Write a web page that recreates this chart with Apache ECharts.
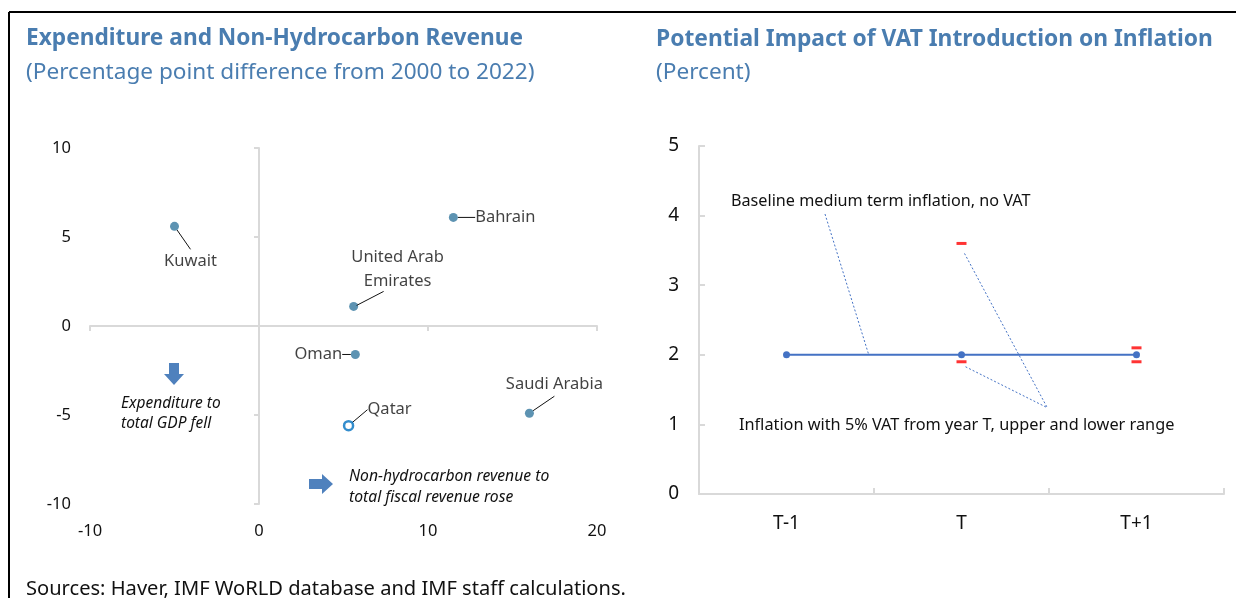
<!DOCTYPE html>
<html>
<head>
<meta charset="utf-8">
<script src="https://cdn.jsdelivr.net/npm/echarts@6/dist/echarts.min.js"></script>
<style>
  html, body { margin: 0; padding: 0; background: #fff; }
  #main { width: 1236px; height: 598px; }
</style>
</head>
<body>
<div id="main"></div>
<script>
// left panel: change 2000-2022, percentage points
const countries = ['Kuwait', 'Bahrain', 'United Arab\nEmirates', 'Oman', 'Qatar', 'Saudi Arabia']
const nonHydroRevenue = [-5.0, 11.5, 5.6, 5.7, 5.3, 16.0]
const expenditure = [5.6, 6.1, 1.1, -1.6, -5.6, -4.9]
const leftXTicks = [-10, 0, 10, 20]
const leftYTicks = [-10, -5, 0, 5, 10]

// right panel: inflation, percent
const periods = ['T-1', 'T', 'T+1']
const baseline = [2, 2, 2]
const vatUpper = [null, 3.6, 2.1]
const vatLower = [null, 1.9, 1.9]

const font = 'Noto Sans'
const titleBlue = '#4a7db0'
const axisGray = '#d9d9d9'
const dotColor = '#35789f'

// label offsets (px) from each point
const labelOffsets = [[16, 35], [52, 0], [44, -37], [-37, 0], [41, -16], [25, -29]]

// UAE gets its own series: its leader line is angled, drawn with a markLine
const uaeIdx = 2
const mainIdx = countries.map((c, i) => i).filter(i => i !== uaeIdx)

const toItem = (i) => {
  const item = { name: countries[i], value: [nonHydroRevenue[i], expenditure[i]] }
  if (countries[i] === 'Qatar') {
    item.itemStyle = { color: '#fff', borderColor: '#0070c0', borderWidth: 2.5 }
    item.symbolSize = 9
  }
  return item
}

const labelBase = { show: true, position: 'inside', formatter: '{b}', fontSize: 16.5, color: '#111', lineHeight: 24 }

const chart = echarts.init(document.getElementById('main'))

chart.setOption({
  animation: false,
  textStyle: { fontFamily: font },
  title: [{
    left: 21, top: 22,
    text: 'Expenditure and Non-Hydrocarbon Revenue',
    subtext: '(Percentage point difference from 2000 to 2022)',
    itemGap: 11,
    textStyle: { fontFamily: font, fontSize: 22.7, fontWeight: 'bold', color: titleBlue },
    subtextStyle: { fontFamily: font, fontSize: 22.6, color: titleBlue }
  }, {
    left: 651, top: 23,
    text: 'Potential Impact of VAT Introduction on Inflation',
    subtext: '(Percent)',
    itemGap: 10,
    textStyle: { fontFamily: font, fontSize: 22.8, fontWeight: 'bold', color: titleBlue },
    subtextStyle: { fontFamily: font, fontSize: 22.6, color: titleBlue }
  }, {
    left: 21, top: 574,
    text: 'Sources: Haver, IMF WoRLD database and IMF staff calculations.',
    textStyle: { fontFamily: font, fontSize: 20.1, fontWeight: 'normal', color: '#111' }
  }],
  grid: [
    { left: 90, right: 639, top: 148, bottom: 94 },
    { left: 699, right: 12, top: 146, bottom: 104 }
  ],
  xAxis: [{
    gridIndex: 0, type: 'value', min: leftXTicks[0], max: leftXTicks[3], interval: 10,
    axisLine: { show: false }, axisTick: { show: false }, splitLine: { show: false },
    axisLabel: { margin: 19, fontSize: 16.5, color: '#111' }
  }, {
    gridIndex: 0, type: 'value', min: leftXTicks[0], max: leftXTicks[3], interval: 10,
    axisLine: { show: true, onZero: true, lineStyle: { color: axisGray, width: 2 } },
    axisTick: { show: true, inside: true, length: 5, lineStyle: { color: axisGray, width: 2 } },
    axisLabel: { show: false }, splitLine: { show: false }
  }, {
    gridIndex: 1, type: 'category', data: periods, boundaryGap: true,
    axisLine: { lineStyle: { color: axisGray, width: 2 } },
    axisTick: { show: true, inside: true, length: 6, lineStyle: { color: axisGray, width: 2 } },
    axisLabel: { margin: 20, fontSize: 19, color: '#111' }
  }],
  yAxis: [{
    gridIndex: 0, type: 'value', min: leftYTicks[0], max: leftYTicks[4], interval: 5,
    axisLine: { show: false }, axisTick: { show: false }, splitLine: { show: false },
    axisLabel: { margin: 19, fontSize: 16.5, color: '#111' }
  }, {
    gridIndex: 0, type: 'value', min: leftYTicks[0], max: leftYTicks[4], interval: 5,
    axisLine: { show: true, onZero: true, lineStyle: { color: axisGray, width: 2 } },
    axisTick: { show: true, inside: true, length: 5, lineStyle: { color: axisGray, width: 2 } },
    axisLabel: { show: false }, splitLine: { show: false }
  }, {
    gridIndex: 1, type: 'value', min: 0, max: 5, interval: 1,
    axisLine: { show: true, lineStyle: { color: axisGray, width: 2 } },
    axisTick: { show: true, inside: true, length: 6, lineStyle: { color: axisGray, width: 2 } },
    splitLine: { show: false },
    axisLabel: { margin: 20, fontSize: 19, color: '#111' }
  }],
  series: [{
    type: 'scatter',
    xAxisIndex: 0, yAxisIndex: 0,
    symbolSize: 9,
    itemStyle: { color: dotColor },
    data: mainIdx.map(toItem),
    label: labelBase,
    labelLayout: (params) => {
      const o = labelOffsets[mainIdx[params.dataIndex]]
      return { dx: o[0], dy: o[1] }
    },
    labelLine: { show: true, lineStyle: { color: '#111', width: 1 } }
  }, {
    id: 'uae',
    type: 'scatter',
    xAxisIndex: 0, yAxisIndex: 0,
    symbolSize: 9,
    itemStyle: { color: dotColor },
    data: [toItem(uaeIdx)],
    label: labelBase,
    labelLayout: () => ({ dx: labelOffsets[uaeIdx][0], dy: labelOffsets[uaeIdx][1] }),
    labelLine: { show: false }
  }, {
    name: 'Baseline',
    type: 'line',
    xAxisIndex: 2, yAxisIndex: 2,
    data: baseline,
    symbol: 'circle', symbolSize: 7,
    lineStyle: { color: '#4472c4', width: 2 },
    itemStyle: { color: '#4472c4' }
  }, {
    name: 'Upper',
    type: 'scatter',
    xAxisIndex: 2, yAxisIndex: 2,
    data: vatUpper,
    symbol: 'rect', symbolSize: [10, 3],
    itemStyle: { color: '#ff0000' }
  }, {
    name: 'Lower',
    type: 'scatter',
    xAxisIndex: 2, yAxisIndex: 2,
    data: vatLower,
    symbol: 'rect', symbolSize: [10, 3],
    itemStyle: { color: '#ff0000' }
  }]
})

// helpers for annotation placement
const lp = (x, y) => chart.convertToPixel({ seriesIndex: 0 }, [x, y])
const rp = (x, y) => chart.convertToPixel({ seriesIndex: 2 }, [x, y])
const catX = (f) => {
  const a = rp(0, 0)[0], b = rp(1, 0)[0]
  return a + f * (b - a)
}
const dotted = { stroke: '#4472c4', lineWidth: 1, lineDash: [2, 2] }
const arrowBlue = '#4f81bd'

const uae = lp(nonHydroRevenue[uaeIdx], expenditure[uaeIdx])
const upT = rp(1, vatUpper[1])
const loT = rp(1, vatLower[1])
const lineHit = [catX(0.47), rp(0, baseline[0])[1]]
const vatEnd = [catX(1.49), rp(0, 1.24)[1]]

chart.setOption({
  series: [{
    id: 'uae',
    markLine: {
      silent: true,
      symbol: 'none',
      label: { show: false },
      lineStyle: { color: '#111', width: 1, type: 'solid' },
      data: [[{ x: uae[0] + 3, y: uae[1] - 1 }, { x: uae[0] + 30, y: uae[1] - 15 }]]
    }
  }],
  graphic: [
    // frame
    { type: 'line', shape: { x1: 9, y1: 12, x2: 1236, y2: 12 }, style: { stroke: '#000', lineWidth: 2 } },
    { type: 'line', shape: { x1: 9, y1: 12, x2: 9, y2: 598 }, style: { stroke: '#000', lineWidth: 2 } },
    // left annotations
    { type: 'polygon', shape: { points: [[169, 363], [179, 363], [179, 374], [184, 374], [174, 385], [164, 374], [169, 374]] }, style: { fill: arrowBlue } },
    { type: 'text', left: 121, top: 394, style: { text: 'Expenditure to\ntotal GDP fell', font: 'italic 15.5px ' + font, fill: '#111', lineHeight: 20 } },
    { type: 'polygon', shape: { points: [[309, 479], [322, 479], [322, 474], [333, 484], [322, 494], [322, 489], [309, 489]] }, style: { fill: arrowBlue } },
    { type: 'text', left: 349, top: 466, style: { text: 'Non-hydrocarbon revenue to\ntotal fiscal revenue rose', font: 'italic 15.7px ' + font, fill: '#111', lineHeight: 21 } },
    // right annotations
    { type: 'text', left: 731, top: 193, style: { text: 'Baseline medium term inflation, no VAT', font: '16.2px ' + font, fill: '#111' } },
    { type: 'text', left: 739, top: 417, style: { text: 'Inflation with 5% VAT from year T, upper and lower range', font: '16.3px ' + font, fill: '#111' } },
    { type: 'line', shape: { x1: 825, y1: 214, x2: lineHit[0], y2: lineHit[1] }, style: dotted },
    { type: 'line', shape: { x1: upT[0] + 3, y1: upT[1] + 10, x2: vatEnd[0], y2: vatEnd[1] }, style: dotted },
    { type: 'line', shape: { x1: loT[0] + 4, y1: loT[1] + 5, x2: vatEnd[0], y2: vatEnd[1] }, style: dotted }
  ]
})
</script>
</body>
</html>
